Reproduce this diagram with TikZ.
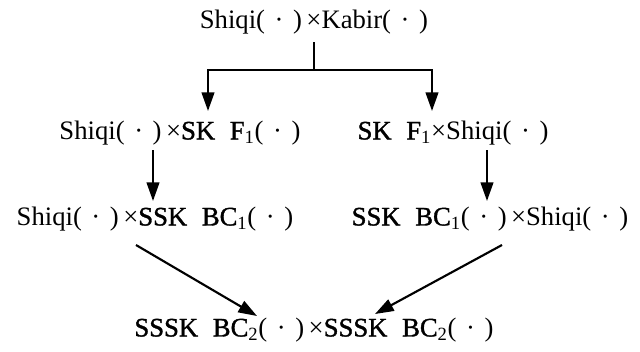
\documentclass[tikz,border=0pt]{standalone}
\usepackage{fontspec}
\setmainfont{Liberation Serif}
\newfontface\semib{Liberation Serif}[FakeBold=1.3]
\usetikzlibrary{arrows.meta}
% placeholder bracket with a centred dot
\newcommand{\pdot}{(\hspace{0.36em}·\hspace{0.36em})}
\newcommand{\ssub}[1]{\textsubscript{#1}}
\newcommand{\gap}{\hspace{0.55em}}
\newcommand{\lname}[1]{{\semib #1}}
\begin{document}
\begin{tikzpicture}[x=0.75pt,y=-0.75pt,
  lbl/.style={inner sep=0pt, font=\fontsize{20}{24}\selectfont},
  link/.style={line width=1.6pt, -{Triangle[length=14pt,width=9.5pt]}},
  stem/.style={line width=1.6pt}]
\useasboundingbox (0,0) rectangle (640,351);

% crosses
\node[lbl] (top) at (314,22) {Shiqi\pdot\,×Kabir\pdot};
\node[lbl] (l2) at (180,133) {Shiqi\pdot\,×\lname{SK}\gap\lname{F}\ssub{1}\pdot};
\node[lbl] (r2) at (453,133) {\lname{SK}\gap\lname{F}\ssub{1}×Shiqi\pdot};
\node[lbl] (l3) at (155,219) {Shiqi\pdot\,×\lname{SSK}\gap\lname{BC}\ssub{1}\pdot};
\node[lbl] (r3) at (490,219) {\lname{SSK}\gap\lname{BC}\ssub{1}\pdot\,×Shiqi\pdot};
\node[lbl] (bot) at (314,330) {\lname{SSSK}\gap\lname{BC}\ssub{2}\pdot\,×\lname{SSSK}\gap\lname{BC}\ssub{2}\pdot};

% branching from the first cross
\coordinate (stemtop) at (314,42);
\coordinate (split) at (314,70);
\coordinate (tipL) at (208,111);
\coordinate (tipR) at (432,111);
\draw[stem] (stemtop) -- (split);
\draw[link] (split) -| (tipL);
\draw[link] (split) -| (tipR);

% backcross steps
\coordinate (aL) at (153,150);
\coordinate (bL) at (153,201);
\coordinate (aR) at (487,150);
\coordinate (bR) at (487,201);
\draw[link] (aL) -- (bL);
\draw[link] (aR) -- (bR);

% converging to the final cross
\coordinate (cL) at (136,245);
\coordinate (cR) at (502,245);
\coordinate (dL) at (257,316);
\coordinate (dR) at (375,314);
\draw[link] (cL) -- (dL);
\draw[link] (cR) -- (dR);
\end{tikzpicture}
\end{document}
